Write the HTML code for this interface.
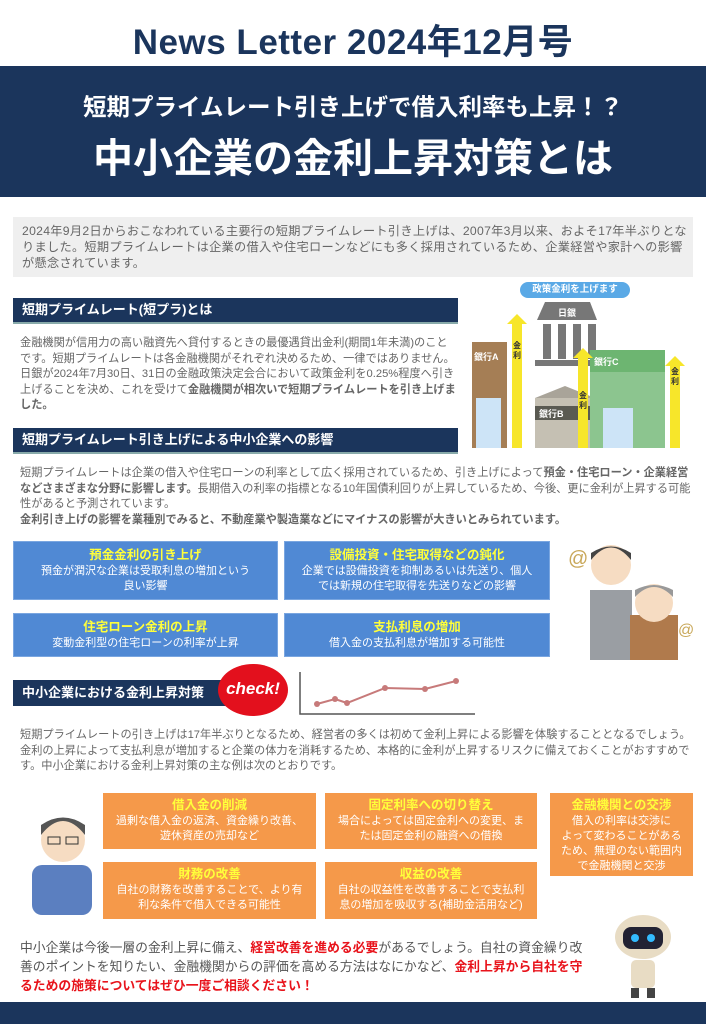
<!DOCTYPE html>
<html><head><meta charset="utf-8"><style>
*{margin:0;padding:0;box-sizing:border-box}
body{width:706px;height:1024px;position:relative;background:#fff;font-family:"Liberation Sans","Noto Sans CJK JP",sans-serif;overflow:hidden}
.a{position:absolute}
.t{color:#666;font-size:11.2px;line-height:15.5px}
.h{background:#1b355c;color:#fff;font-size:13px;font-weight:bold;padding-left:9px;line-height:24px;border-bottom:2px solid #8aa;}
.bb{background:#5089d4;color:#fff;text-align:center;font-size:11px;line-height:15px;border:1px solid #7aa6e0}
.bb b{display:block;color:#ffff3a;font-size:12.5px;line-height:18px;margin-top:4px}
.ob{background:#f5994a;color:#fff;text-align:center;font-size:11px;line-height:15px}
.ob b{display:block;color:#ffff3a;font-size:12.5px;line-height:18px;margin-top:3px}
.r{color:#e8131b;font-weight:bold}
</style></head><body>
<div class="a" style="left:0;top:14px;width:706px;text-align:center;font-size:35px;font-weight:bold;color:#1b355c;letter-spacing:0.5px">News Letter 2024年12月号</div>
<div class="a" style="left:0;top:66px;width:706px;height:131px;background:#1b355c"></div>
<div class="a" style="left:0;top:88px;width:706px;text-align:center;color:#fff;font-size:23.5px;font-weight:bold">短期プライムレート引き上げで借入利率も上昇！？</div>
<div class="a" style="left:0;top:126px;width:706px;text-align:center;color:#fff;font-size:40px;font-weight:bold">中小企業の金利上昇対策とは</div>

<div class="a" style="left:13px;top:217px;width:680px;height:60px;background:#efefef"></div>
<div class="a t" style="left:22px;top:223px;width:666px;font-size:12.2px;line-height:16px;letter-spacing:0.3px">2024年9月2日からおこなわれている主要行の短期プライムレート引き上げは、2007年3月以来、およそ17年半ぶりとなりました。短期プライムレートは企業の借入や住宅ローンなどにも多く採用されているため、企業経営や家計への影響が懸念されています。</div>

<div class="a h" style="left:13px;top:298px;width:445px;height:26px">短期プライムレート(短プラ)とは</div>
<div class="a t" style="left:20px;top:336px;width:438px">金融機関が信用力の高い融資先へ貸付するときの最優遇貸出金利(期間1年未満)のことです。短期プライムレートは各金融機関がそれぞれ決めるため、一律ではありません。日銀が2024年7月30日、31日の金融政策決定会合において政策金利を0.25%程度へ引き上げることを決め、これを受けて<b>金融機関が相次いで短期プライムレートを引き上げました。</b></div>

<div class="a h" style="left:13px;top:428px;width:445px;height:26px">短期プライムレート引き上げによる中小企業への影響</div>
<div class="a t" style="left:20px;top:466px;width:675px">短期プライムレートは企業の借入や住宅ローンの利率として広く採用されているため、引き上げによって<b>預金・住宅ローン・企業経営などさまざまな分野に影響します。</b>長期借入の利率の指標となる10年国債利回りが上昇しているため、今後、更に金利が上昇する可能性があると予測されています。<br><b>金利引き上げの影響を業種別でみると、不動産業や製造業などにマイナスの影響が大きいとみられています。</b></div>

<!-- bank illustration -->
<div class="a" style="left:520px;top:282px;width:110px;height:16px;background:#5aa9e6;border-radius:8px;color:#fff;font-size:9.5px;font-weight:bold;text-align:center;line-height:16px">政策金利を上げます</div>
<svg class="a" style="left:465px;top:298px" width="230" height="155">
<polygon points="80,4 125,4 132,22 72,22" fill="#777"/>
<text x="102" y="18" fill="#fff" font-size="9" text-anchor="middle" font-weight="bold">日銀</text>
<rect x="78" y="26" width="8" height="35" fill="#777"/><rect x="93" y="26" width="8" height="35" fill="#777"/><rect x="108" y="26" width="8" height="35" fill="#777"/><rect x="123" y="26" width="8" height="35" fill="#777"/>
<rect x="70" y="62" width="68" height="6" fill="#777"/>
<rect x="7" y="44" width="35" height="106" fill="#a57e55"/>
<text x="9" y="62" fill="#fff" font-size="9" font-weight="bold">銀行A</text>
<rect x="11" y="100" width="25" height="50" fill="#cde4f7"/>
<rect x="70" y="100" width="60" height="50" fill="#c5c0b3"/><polygon points="70,100 100,88 130,100" fill="#a9a499"/>
<rect x="70" y="108" width="60" height="14" fill="#5a5a52"/><text x="74" y="119" fill="#fff" font-size="9" font-weight="bold">銀行B</text>
<rect x="125" y="52" width="75" height="98" fill="#8cc58f"/><rect x="125" y="52" width="75" height="22" fill="#6db571"/>
<text x="129" y="67" fill="#fff" font-size="9" font-weight="bold">銀行C</text>
<rect x="138" y="110" width="30" height="40" fill="#cde4f7"/>
<polygon points="52,16 62,26 57,26 57,150 47,150 47,26 42,26" fill="#f7e62a"/>
<polygon points="118,50 128,60 123,60 123,150 113,150 113,60 108,60" fill="#f7e62a"/>
<polygon points="210,58 220,68 215,68 215,150 205,150 205,68 200,68" fill="#f7e62a"/>
<text x="52" y="50" font-size="8" font-weight="bold" text-anchor="middle" fill="#333">金</text><text x="52" y="60" font-size="8" font-weight="bold" text-anchor="middle" fill="#333">利</text>
<text x="118" y="100" font-size="8" font-weight="bold" text-anchor="middle" fill="#333">金</text><text x="118" y="110" font-size="8" font-weight="bold" text-anchor="middle" fill="#333">利</text>
<text x="210" y="76" font-size="8" font-weight="bold" text-anchor="middle" fill="#333">金</text><text x="210" y="86" font-size="8" font-weight="bold" text-anchor="middle" fill="#333">利</text>
</svg>

<div class="a bb" style="left:13px;top:541px;width:265px;height:59px"><b>預金金利の引き上げ</b>預金が潤沢な企業は受取利息の増加という<br>良い影響</div>
<div class="a bb" style="left:284px;top:541px;width:266px;height:59px"><b>設備投資・住宅取得などの鈍化</b>企業では設備投資を抑制あるいは先送り、個人<br>では新規の住宅取得を先送りなどの影響</div>
<div class="a bb" style="left:13px;top:613px;width:265px;height:44px"><b>住宅ローン金利の上昇</b>変動金利型の住宅ローンの利率が上昇</div>
<div class="a bb" style="left:284px;top:613px;width:266px;height:44px"><b>支払利息の増加</b>借入金の支払利息が増加する可能性</div>

<!-- worried men -->
<svg class="a" style="left:560px;top:535px" width="140" height="125">
<rect x="30" y="55" width="42" height="70" fill="#9a9ea3"/>
<circle cx="51" cy="30" r="20" fill="#f6dcc2"/><path d="M31 25 Q51 0 71 25 L71 18 Q51 5 31 18Z" fill="#444"/>
<rect x="70" y="80" width="48" height="45" fill="#b07a4c"/>
<circle cx="94" cy="68" r="19" fill="#f6dcc2"/><path d="M75 62 Q94 42 113 62 L113 55 Q94 45 75 55Z" fill="#999"/>
<text x="8" y="30" font-size="20" fill="#c9a85a">@</text><text x="118" y="100" font-size="16" fill="#c9a85a">@</text>
</svg>

<div class="a" style="left:13px;top:680px;width:215px;height:26px;background:#1b355c;color:#fff;font-size:13px;font-weight:bold;line-height:26px;padding-left:9px">中小企業における金利上昇対策</div>
<div class="a" style="left:218px;top:664px;width:70px;height:52px;border-radius:50%;background:#e3101d;color:#fff;font-weight:bold;font-size:17px;text-align:center;line-height:50px;font-style:italic">check!</div>
<svg class="a" style="left:295px;top:672px" width="190" height="45">
<polyline points="5,0 5,42 180,42" fill="none" stroke="#555" stroke-width="1.5"/>
<polyline points="22,32 40,27 52,31 90,16 130,17 161,9" fill="none" stroke="#c77a7a" stroke-width="2"/>
<g fill="#c77a7a"><circle cx="22" cy="32" r="3"/><circle cx="40" cy="27" r="3"/><circle cx="52" cy="31" r="3"/><circle cx="90" cy="16" r="3"/><circle cx="130" cy="17" r="3"/><circle cx="161" cy="9" r="3"/></g>
</svg>
<div class="a t" style="left:20px;top:728px;width:675px">短期プライムレートの引き上げは17年半ぶりとなるため、経営者の多くは初めて金利上昇による影響を体験することとなるでしょう。金利の上昇によって支払利息が増加すると企業の体力を消耗するため、本格的に金利が上昇するリスクに備えておくことがおすすめです。中小企業における金利上昇対策の主な例は次のとおりです。</div>

<div class="a ob" style="left:103px;top:793px;width:213px;height:56px"><b>借入金の削減</b>過剰な借入金の返済、資金繰り改善、<br>遊休資産の売却など</div>
<div class="a ob" style="left:325px;top:793px;width:212px;height:56px"><b>固定利率への切り替え</b>場合によっては固定金利への変更、ま<br>たは固定金利の融資への借換</div>
<div class="a ob" style="left:550px;top:793px;width:143px;height:83px"><b>金融機関との交渉</b>借入の利率は交渉に<br>よって変わることがある<br>ため、無理のない範囲内<br>で金融機関と交渉</div>
<div class="a ob" style="left:103px;top:862px;width:213px;height:57px"><b>財務の改善</b>自社の財務を改善することで、より有<br>利な条件で借入できる可能性</div>
<div class="a ob" style="left:325px;top:862px;width:212px;height:57px"><b>収益の改善</b>自社の収益性を改善することで支払利<br>息の増加を吸収する(補助金活用など)</div>

<svg class="a" style="left:20px;top:805px" width="80" height="110">
<rect x="12" y="60" width="60" height="50" rx="10" fill="#5b7fc0"/>
<circle cx="43" cy="35" r="22" fill="#f6dcc2"/><path d="M21 30 Q43 2 65 30 L65 20 Q43 5 21 20Z" fill="#555"/>
<rect x="28" y="32" width="12" height="7" fill="none" stroke="#333"/><rect x="46" y="32" width="12" height="7" fill="none" stroke="#333"/>
</svg>
<svg class="a" style="left:605px;top:915px" width="75" height="85">
<ellipse cx="38" cy="22" rx="28" ry="22" fill="#e8dcc4"/><rect x="18" y="12" width="40" height="22" rx="8" fill="#223"/>
<circle cx="30" cy="23" r="4" fill="#3bf"/><circle cx="46" cy="23" r="4" fill="#3bf"/>
<rect x="26" y="45" width="24" height="28" rx="5" fill="#e8dcc4"/><rect x="26" y="73" width="8" height="10" fill="#444"/><rect x="42" y="73" width="8" height="10" fill="#444"/>
</svg>

<div class="a" style="left:20px;top:938px;width:575px;color:#555;font-size:12.8px;line-height:19px">中小企業は今後一層の金利上昇に備え、<span class="r">経営改善を進める必要</span>があるでしょう。自社の資金繰り改善のポイントを知りたい、金融機関からの評価を高める方法はなにかなど、<span class="r">金利上昇から自社を守るための施策についてはぜひ一度ご相談ください！</span></div>

<div class="a" style="left:0;top:1002px;width:706px;height:22px;background:#1b355c"></div>
</body></html>
